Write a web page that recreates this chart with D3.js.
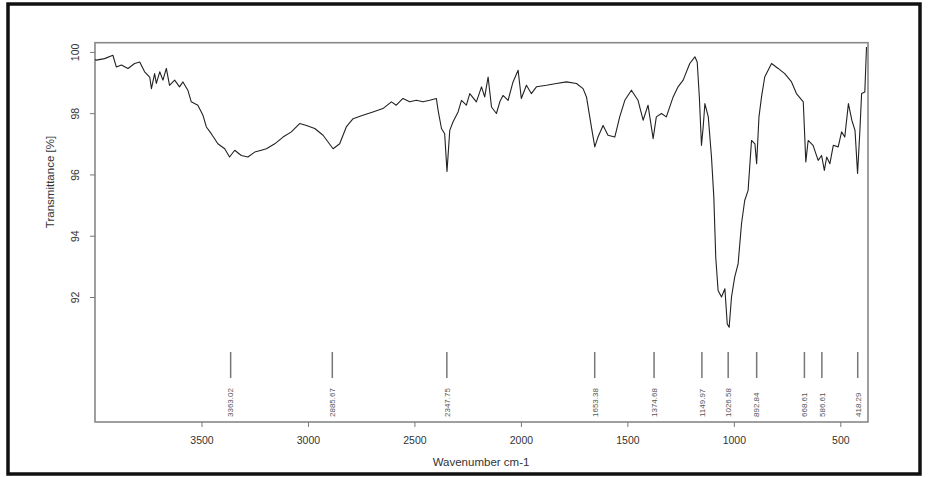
<!DOCTYPE html>
<html>
<head>
<meta charset="utf-8">
<script src="https://cdn.jsdelivr.net/npm/d3@7"></script>
<style>
  body { margin: 0; background: #fff; }
  text { font-family: "Liberation Sans", Arial, sans-serif; }
</style>
</head>
<body>
<svg id="chart" width="928" height="477"></svg>
<script>
// wavenumber (cm-1) and transmittance (%)
let wavenumbers = [4000, 3994, 3955, 3916, 3900, 3876, 3845, 3814, 3790, 3767, 3743, 3735, 3720, 3712, 3696, 3681, 3665, 3650, 3626, 3603, 3587, 3564, 3548, 3517, 3493, 3477, 3454, 3423, 3391, 3368, 3344, 3313, 3282, 3250, 3219, 3195, 3156, 3117, 3078, 3039, 3007, 2968, 2929, 2882, 2851, 2820, 2788, 2742, 2695, 2648, 2608, 2585, 2554, 2522, 2491, 2460, 2428, 2397, 2389, 2373, 2358, 2347, 2334, 2319, 2295, 2279, 2256, 2240, 2209, 2185, 2170, 2154, 2138, 2115, 2099, 2084, 2060, 2037, 2013, 1998, 1974, 1951, 1927, 1880, 1833, 1786, 1739, 1708, 1692, 1669, 1653, 1638, 1614, 1591, 1559, 1536, 1512, 1481, 1450, 1426, 1403, 1379, 1364, 1340, 1317, 1285, 1262, 1238, 1207, 1183, 1172, 1162, 1152, 1144, 1136, 1120, 1105, 1094, 1085, 1074, 1058, 1042, 1031, 1022, 1011, 996, 980, 964, 949, 933, 917, 901, 893, 882, 870, 855, 823, 792, 761, 729, 706, 674, 662, 651, 628, 604, 588, 575, 564, 549, 533, 510, 494, 479, 462, 446, 431, 419, 408, 400, 385, 377];
let transmittance = [99.75, 99.73, 99.78, 99.89, 99.51, 99.57, 99.46, 99.62, 99.67, 99.35, 99.18, 98.80, 99.29, 98.97, 99.35, 99.08, 99.46, 98.91, 99.08, 98.86, 99.02, 98.75, 98.37, 98.26, 97.93, 97.55, 97.33, 97.00, 96.84, 96.57, 96.79, 96.62, 96.57, 96.73, 96.79, 96.84, 97.00, 97.22, 97.39, 97.66, 97.60, 97.50, 97.28, 96.84, 97.00, 97.55, 97.82, 97.93, 98.04, 98.15, 98.37, 98.26, 98.48, 98.37, 98.42, 98.37, 98.42, 98.48, 98.10, 97.50, 97.33, 96.10, 97.44, 97.71, 98.04, 98.42, 98.26, 98.64, 98.37, 98.86, 98.53, 99.18, 98.20, 97.99, 98.37, 98.58, 98.42, 99.02, 99.40, 98.48, 98.91, 98.64, 98.86, 98.91, 98.97, 99.02, 98.97, 98.80, 98.53, 97.55, 96.90, 97.22, 97.60, 97.28, 97.22, 97.88, 98.42, 98.75, 98.42, 97.77, 98.26, 97.17, 97.88, 97.99, 97.88, 98.53, 98.86, 99.08, 99.62, 99.84, 99.67, 98.53, 96.95, 97.55, 98.31, 97.88, 96.57, 95.26, 93.30, 92.21, 92.00, 92.27, 91.12, 91.01, 92.00, 92.65, 93.08, 94.39, 95.15, 95.48, 97.11, 97.00, 96.35, 97.88, 98.53, 99.18, 99.62, 99.46, 99.29, 99.02, 98.64, 98.37, 96.41, 97.11, 96.95, 96.46, 96.62, 96.13, 96.57, 96.35, 96.95, 96.90, 97.39, 97.22, 98.31, 97.77, 97.44, 96.03, 97.44, 98.64, 98.69, 100.16];

// labelled peaks
let peakPositions = [3363.02, 2885.67, 2347.75, 1653.38, 1374.68, 1149.97, 1026.58, 892.84, 668.61, 586.61, 418.29];

let xTicks = [3500, 3000, 2500, 2000, 1500, 1000, 500];
let yTicks = [92, 94, 96, 98, 100];

let svg = d3.select('#chart');
let margin = {left: 95, right: 868, top: 42.7, bottom: 422};

let x = d3.scaleLinear().domain([4000, 370]).range([margin.left, margin.right]);
let y = d3.scaleLinear().domain([87.92, 100.3]).range([margin.bottom, margin.top]);

// outer black frame
svg.append('rect')
    .attr('x', 8).attr('y', 4)
    .attr('width', 912).attr('height', 470)
    .attr('fill', 'none')
    .attr('stroke', '#111')
    .attr('stroke-width', 3.5);

// plot box
svg.append('rect')
    .attr('x', margin.left).attr('y', margin.top)
    .attr('width', margin.right - margin.left).attr('height', margin.bottom - margin.top)
    .attr('fill', 'none')
    .attr('stroke', '#888')
    .attr('stroke-width', 1.6);

let xAxis = svg.append('g')
    .attr('transform', 'translate(0,' + margin.bottom + ')')
    .call(d3.axisBottom(x).tickValues(xTicks).tickFormat(d3.format('d')).tickSize(5).tickSizeOuter(0));
xAxis.select('.domain').remove();
xAxis.selectAll('line').attr('stroke', '#777');
xAxis.selectAll('text')
    .attr('y', 15)
    .style('font-size', '10.5px')
    .attr('fill', '#333');

let yAxis = svg.append('g')
    .attr('transform', 'translate(' + margin.left + ',0)')
    .call(d3.axisLeft(y).tickValues(yTicks).tickFormat(d3.format('d')).tickSize(5).tickSizeOuter(0));
yAxis.select('.domain').remove();
yAxis.selectAll('line').attr('stroke', '#777');
yAxis.selectAll('text')
    .attr('x', 0).attr('y', 0)
    .attr('text-anchor', 'middle')
    .attr('transform', 'translate(-20,0) rotate(-90)')
    .attr('dy', '0.35em')
    .style('font-size', '10.5px')
    .attr('fill', '#333');

// axis titles
svg.append('text')
    .attr('x', 481).attr('y', 466)
    .attr('text-anchor', 'middle')
    .style('font-size', '11.5px')
    .attr('fill', '#333')
    .text('Wavenumber cm-1');

svg.append('text')
    .attr('transform', 'translate(50,182) rotate(-90)')
    .attr('text-anchor', 'middle')
    .attr('dy', '0.35em')
    .style('font-size', '11.5px')
    .attr('fill', '#333')
    .text('Transmittance [%]');

// spectrum
let spectrum = wavenumbers.map((d, i) => [d, transmittance[i]]);
let line = d3.line()
    .x((d) => x(d[0]))
    .y((d) => y(d[1]));

svg.append('path')
    .datum(spectrum)
    .attr('fill', 'none')
    .attr('stroke', '#222')
    .attr('stroke-width', 1.1)
    .attr('stroke-linejoin', 'round')
    .attr('d', line);

// peak markers and labels
let peaks = svg.selectAll('.peak')
    .data(peakPositions)
    .enter()
    .append('g')
    .attr('class', 'peak');

peaks.append('line')
    .attr('x1', (d) => x(d)).attr('x2', (d) => x(d))
    .attr('y1', 352).attr('y2', 378)
    .attr('stroke', '#777')
    .attr('stroke-width', 1.5);

peaks.append('text')
    .attr('transform', (d) => 'translate(' + x(d) + ',417) rotate(-90)')
    .attr('dy', '0.35em')
    .style('font-size', '8px')
    .attr('fill', '#555')
    .text((d) => d.toFixed(2));
</script>
</body>
</html>
